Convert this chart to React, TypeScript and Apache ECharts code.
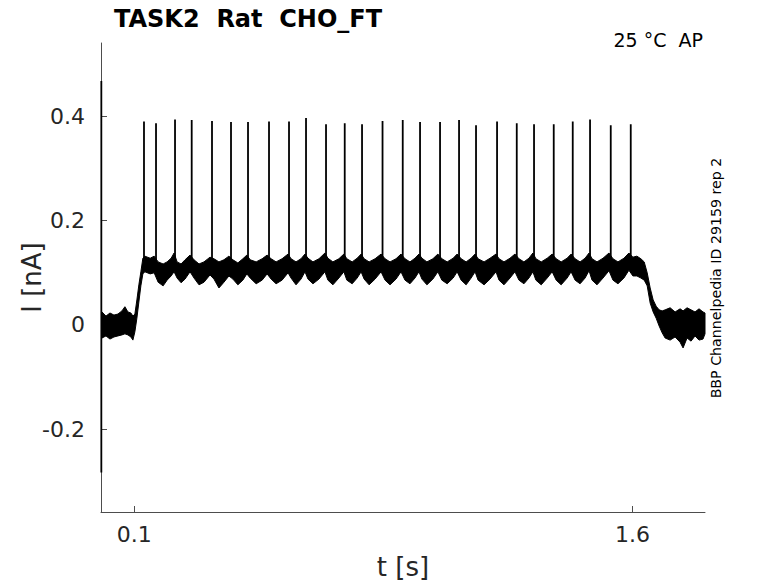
import React, { useEffect, useRef } from "react";
import * as echarts from "echarts";

// ---- data ----
// envelope of the noisy current trace (time in s, current in nA)
const envT = [
  0.003, 0.015, 0.027, 0.039, 0.051, 0.063, 0.072, 0.081, 0.090, 0.096,
  0.102, 0.108, 0.114, 0.120, 0.126, 0.132, 0.148, 0.160, 0.172, 0.187,
  0.199, 0.211, 0.220, 0.229, 0.241, 0.253, 0.268, 0.280, 0.295, 0.310,
  0.328, 0.340, 0.355, 0.370, 0.385, 0.397, 0.412, 0.427, 0.439, 0.449,
  0.467, 0.485, 0.500, 0.512, 0.527, 0.545, 0.563, 0.572, 0.587, 0.602,
  0.614, 0.623, 0.638, 0.656, 0.674, 0.683, 0.698, 0.716, 0.731, 0.740,
  0.756, 0.771, 0.783, 0.792, 0.807, 0.825, 0.843, 0.855, 0.870, 0.888,
  0.903, 0.915, 0.930, 0.945, 0.957, 0.966, 0.981, 0.999, 1.014, 1.026,
  1.042, 1.060, 1.072, 1.084, 1.099, 1.114, 1.126, 1.135, 1.153, 1.171,
  1.189, 1.198, 1.213, 1.231, 1.246, 1.258, 1.273, 1.288, 1.300, 1.309,
  1.325, 1.343, 1.358, 1.370, 1.385, 1.403, 1.415, 1.427, 1.442, 1.457,
  1.469, 1.478, 1.493, 1.511, 1.529, 1.541, 1.556, 1.574, 1.589, 1.601,
  1.613, 1.625, 1.635, 1.644, 1.653, 1.662, 1.671, 1.680, 1.689, 1.698,
  1.713, 1.728, 1.743, 1.752, 1.764, 1.776, 1.788, 1.800, 1.812, 1.818,
];
const envHi = [
  0.025, 0.017, 0.023, 0.019, 0.021, 0.027, 0.035, 0.025, 0.023, 0.017,
  0.021, 0.048, 0.077, 0.102, 0.128, 0.132, 0.128, 0.132, 0.121, 0.117,
  0.121, 0.128, 0.138, 0.121, 0.117, 0.125, 0.134, 0.125, 0.117, 0.121,
  0.130, 0.127, 0.121, 0.125, 0.132, 0.125, 0.119, 0.127, 0.134, 0.125,
  0.121, 0.127, 0.134, 0.127, 0.121, 0.127, 0.136, 0.127, 0.121, 0.127,
  0.136, 0.128, 0.121, 0.127, 0.138, 0.128, 0.121, 0.127, 0.136, 0.127,
  0.121, 0.128, 0.136, 0.127, 0.121, 0.127, 0.136, 0.127, 0.121, 0.127,
  0.136, 0.127, 0.121, 0.128, 0.136, 0.128, 0.121, 0.127, 0.136, 0.127,
  0.121, 0.128, 0.136, 0.127, 0.121, 0.128, 0.136, 0.127, 0.121, 0.128,
  0.136, 0.127, 0.121, 0.128, 0.136, 0.127, 0.121, 0.128, 0.138, 0.127,
  0.121, 0.128, 0.136, 0.127, 0.121, 0.128, 0.136, 0.127, 0.121, 0.128,
  0.138, 0.127, 0.121, 0.128, 0.138, 0.127, 0.121, 0.128, 0.138, 0.130,
  0.132, 0.127, 0.121, 0.100, 0.071, 0.048, 0.036, 0.029, 0.027, 0.029,
  0.033, 0.025, 0.031, 0.027, 0.033, 0.029, 0.025, 0.031, 0.025, 0.023,
];
const envLo = [
  -0.025, -0.021, -0.027, -0.023, -0.021, -0.019, -0.017, -0.019, -0.023, -0.029,
  -0.013, 0.013, 0.044, 0.075, 0.098, 0.102, 0.098, 0.100, 0.082, 0.075,
  0.086, 0.094, 0.102, 0.090, 0.081, 0.088, 0.102, 0.090, 0.077, 0.082,
  0.096, 0.088, 0.071, 0.082, 0.094, 0.088, 0.077, 0.086, 0.098, 0.090,
  0.079, 0.086, 0.098, 0.088, 0.079, 0.086, 0.100, 0.090, 0.077, 0.088,
  0.102, 0.088, 0.079, 0.088, 0.102, 0.086, 0.077, 0.090, 0.102, 0.086,
  0.079, 0.090, 0.102, 0.088, 0.077, 0.088, 0.102, 0.086, 0.077, 0.088,
  0.102, 0.086, 0.079, 0.090, 0.102, 0.088, 0.077, 0.088, 0.102, 0.086,
  0.079, 0.090, 0.102, 0.086, 0.077, 0.090, 0.102, 0.086, 0.077, 0.088,
  0.102, 0.086, 0.077, 0.090, 0.102, 0.086, 0.079, 0.090, 0.102, 0.086,
  0.077, 0.090, 0.102, 0.086, 0.077, 0.090, 0.102, 0.086, 0.079, 0.090,
  0.104, 0.086, 0.077, 0.090, 0.104, 0.086, 0.079, 0.090, 0.105, 0.094,
  0.094, 0.090, 0.086, 0.075, 0.042, 0.025, 0.013, -0.002, -0.015, -0.025,
  -0.029, -0.023, -0.033, -0.044, -0.025, -0.031, -0.021, -0.029, -0.027, -0.017,
];
// action-potential-like spikes: time (s) and peak current (nA)
const spikeT = [
  0.1294, 0.1656, 0.2228, 0.2730, 0.3341, 0.3913, 0.4425, 0.5057, 0.5659,
  0.6171, 0.6773, 0.7336, 0.7857, 0.8474, 0.9082, 0.9603, 1.0205, 1.0777,
  1.1288, 1.1921, 1.2514, 1.3034, 1.3627, 1.4199, 1.4720, 1.5343, 1.5945,
];
const spikePeak = [
  0.390, 0.387, 0.394, 0.393, 0.391, 0.389, 0.389, 0.390, 0.390,
  0.397, 0.385, 0.387, 0.385, 0.391, 0.393, 0.389, 0.389, 0.393,
  0.383, 0.390, 0.387, 0.385, 0.385, 0.390, 0.394, 0.383, 0.385,
];
const spikeBase = [0.125];
// capacitive transient at the start of the trace
const transientT = [0.001];
const transientV = [0.468, -0.283];

const xTicks = [0.1, 1.6];
const yTicks = [-0.2, 0, 0.2, 0.4];

const FONT = "DejaVu Sans";
const AXIS_GREY = "#4d4d4d";
const LABEL_GREY = "#262626";

export default function App() {
  const ref = useRef<HTMLDivElement>(null);

  useEffect(() => {
    if (!ref.current) return;
    const chart = echarts.init(ref.current, undefined, { renderer: "svg" });

    const bandData = envT.map((t, i) => [t, envHi[i], envLo[i]]);
    const spikeData: any[] = [
      [transientT[0], transientV[0]],
      [transientT[0], transientV[1]],
    ];
    spikeT.forEach((t, i) => {
      spikeData.push([t, "-"]);
      spikeData.push([t, spikeBase[0]]);
      spikeData.push([t, spikePeak[i]]);
    });

    chart.setOption({
      animation: false,
      backgroundColor: "#ffffff",
      title: {
        text: "TASK2  Rat  CHO_FT",
        left: 109,
        top: 2,
        textStyle: {
          fontFamily: FONT,
          fontWeight: "bold",
          fontSize: 24,
          color: "#000",
        },
      },
      grid: { left: 101, right: 73, top: 43, bottom: 71, outerBoundsMode: "none" },
      xAxis: {
        type: "value",
        min: 0,
        max: 1.818,
        name: "t [s]",
        nameLocation: "middle",
        nameGap: 42,
        nameMoveOverlap: false,
        nameTextStyle: { fontFamily: FONT, fontSize: 26, color: LABEL_GREY },
        axisLine: { show: true, onZero: false, lineStyle: { color: AXIS_GREY, width: 1 } },
        axisTick: {
          show: true,
          inside: true,
          length: 6,
          customValues: xTicks,
          lineStyle: { color: AXIS_GREY },
        },
        axisLabel: {
          customValues: xTicks,
          margin: 11,
          fontFamily: FONT,
          fontSize: 22,
          color: LABEL_GREY,
        },
        splitLine: { show: false },
      },
      yAxis: {
        type: "value",
        min: -0.3586,
        max: 0.5407,
        name: "I [nA]",
        nameLocation: "middle",
        nameRotate: 90,
        nameGap: 56,
        nameMoveOverlap: false,
        nameTextStyle: { fontFamily: FONT, fontSize: 26, color: LABEL_GREY },
        axisLine: { show: true, onZero: false, lineStyle: { color: AXIS_GREY, width: 1 } },
        axisTick: {
          show: true,
          inside: true,
          length: 6,
          customValues: yTicks,
          lineStyle: { color: AXIS_GREY },
        },
        axisLabel: {
          customValues: yTicks,
          margin: 16,
          fontFamily: FONT,
          fontSize: 22,
          color: LABEL_GREY,
        },
        splitLine: { show: false },
      },
      graphic: [
        {
          type: "text",
          right: 75,
          top: 30,
          style: {
            text: "25 °C  AP",
            fontFamily: FONT,
            fontSize: 19,
            fill: "#000",
          },
        },
        {
          type: "text",
          x: 716,
          y: 278,
          rotation: Math.PI / 2,
          style: {
            text: "BBP Channelpedia ID 29159 rep 2",
            fontFamily: FONT,
            fontSize: 14.2,
            fill: "#000",
            align: "center",
            verticalAlign: "middle",
          },
        },
      ],
      series: [
        {
          type: "custom",
          data: bandData,
          encode: { x: 0, y: [1, 2] },
          silent: true,
          renderItem: (params: any, api: any) => {
            if (params.dataIndex !== 0) return null;
            const pts: number[][] = [];
            for (let i = 0; i < envT.length; i++) pts.push(api.coord([envT[i], envHi[i]]));
            for (let i = envT.length - 1; i >= 0; i--) pts.push(api.coord([envT[i], envLo[i]]));
            return {
              type: "polygon",
              shape: { points: pts },
              style: { fill: "#000", stroke: "#000", lineWidth: 1, lineJoin: "miter" },
            };
          },
        },
        {
          type: "line",
          data: spikeData,
          showSymbol: false,
          symbol: "none",
          connectNulls: false,
          lineStyle: { color: "#000", width: 1.8 },
          silent: true,
        },
      ],
    });

    return () => chart.dispose();
  }, []);

  return (
    <div
      ref={ref}
      style={{ position: "fixed", left: 0, top: 0, width: 778, height: 583, background: "#fff" }}
    />
  );
}
